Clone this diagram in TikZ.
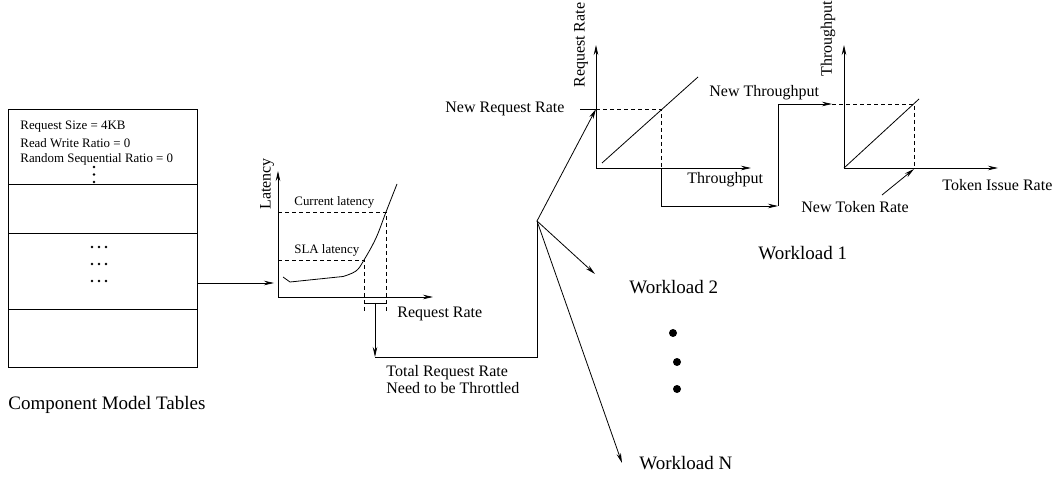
\documentclass[tikz,border=0pt]{standalone}
\usepackage{fontspec}
\setmainfont{Liberation Serif}
\usetikzlibrary{arrows.meta}
\begin{document}
\begin{tikzpicture}[x=1pt,y=-1pt,
  every path/.style={line width=0.8pt},
  arr/.style={-{Stealth[length=10pt,width=4.5pt]}},
  dsh/.style={dash pattern=on 4pt off 3pt},
  small/.style={font=\fontsize{12.9}{15}\selectfont, inner sep=0pt, anchor=west},
  med/.style={font=\fontsize{16}{18}\selectfont, inner sep=0pt, anchor=west},
  big/.style={font=\fontsize{19}{22}\selectfont, inner sep=0pt, anchor=west},
  dotc/.style={fill=black, draw=none}]
\useasboundingbox (0,0) rectangle (1055,478);

% ---------- component model table ----------
\draw (8,109) rectangle (197,367);
\draw (8,184) -- (197,184);
\draw (8,233) -- (197,233);
\draw (8,309) -- (197,309);
\node[small] (t1) at (20,127) {Request Size = 4KB};
\node[small] (t2) at (20,143) {Read Write Ratio = 0};
\node[small] (t3) at (20,159) {Random Sequential Ratio = 0};
\foreach \y in {167,174.5,182} \fill[dotc] (94,\y) circle (1.4);
\foreach \y in {247,264,281} \foreach \x in {92,99,106} \fill[dotc] (\x,\y) circle (1.3);
\node[big] (cmt) at (8,405) {Component Model Tables};
\coordinate (tabout) at (197,283);
\coordinate (latin) at (274,283);
\draw[arr] (tabout) -- (latin);

% ---------- latency graph ----------
\coordinate (lo) at (278,297);
\coordinate (ly) at (278,171);
\coordinate (lx) at (433,297);
\draw[arr] (lo) -- (ly);
\draw[arr] (lo) -- (lx);
\node[med, rotate=90] (latlab) at (267,210) {Latency};
\node[med] (rr1) at (397,314) {Request Rate};
\node[small] (cur) at (294,202) {Current latency};
\node[small] (sla) at (294,250) {SLA latency};
\coordinate (pc) at (386,212);
\coordinate (ps) at (364,260);
\draw (283,277) -- (290,282) -- (343,276.5);
\draw plot[smooth, tension=0.6] coordinates {(343,276.5) (356,271) (364,260) (376,238) (386,212) (397,184)};
\draw[dsh] (lo |- pc) -- (pc) -- (386,313);
\draw[dsh] (lo |- ps) -- (ps) -- (364,313);
\draw (364,303) -- (386,303);
\coordinate (bm) at (375,303);
\coordinate (bd) at (375,357);
\draw[arr] (bm) -- (bd);
\coordinate (J) at (537,221);
\draw (bd) -- (537,357) -- (J);
\node[med] (total) at (386,373) {Total Request Rate};
\node[med] (need) at (386,388) {Need to be Throttled};

% ---------- request rate / throughput graph ----------
\coordinate (ro) at (596,168);
\coordinate (ry) at (596,45);
\coordinate (rx) at (751,168);
\draw[arr] (ro) -- (ry);
\draw[arr] (ro) -- (rx);
\node[med, rotate=90] (rrlab) at (581,88) {Request Rate};
\node[med] (thr1) at (687,180) {Throughput};
\node[med] (nrr) at (445,109) {New Request Rate};
\coordinate (nrrpt) at (596,109);
\draw (580,109) -- (nrrpt);
\draw (602,163) -- (698,77);
\coordinate (q1) at (661,109);
\draw[dsh] (nrrpt) -- (q1) -- (661,168);
\draw[arr] (J) -- (nrrpt);
\coordinate (r1) at (778,206);
\draw[arr] (661,168) |- (r1);
\coordinate (r2) at (832,104);
\draw[arr] (r1) |- (r2);
\node[med] (nthr) at (709,93) {New Throughput};

% ---------- throughput / token graph ----------
\coordinate (so) at (844,168);
\coordinate (sy) at (844,45);
\coordinate (sx) at (998,168);
\draw[arr] (so) -- (sy);
\draw[arr] (so) -- (sx);
\node[med, rotate=90] (thrlab) at (828,77) {Throughput};
\node[med] (tir) at (942,185) {Token Issue Rate};
\draw (so) -- (919,99);
\coordinate (q2) at (914,104);
\draw[dsh] (r2) -- (q2) -- (914,168);
\node[med] (ntr) at (801,207) {New Token Rate};
\coordinate (ntrs) at (882,195);
\coordinate (ntrt) at (914,169);
\draw[arr] (ntrs) -- (ntrt);
\node[big] (w1) at (758,253) {Workload 1};

% ---------- workloads ----------
\coordinate (w2a) at (595,274);
\coordinate (wna) at (622,463);
\draw[arr] (J) -- (w2a);
\draw[arr] (J) -- (wna);
\node[big] (w2) at (629,287) {Workload 2};
\node[big] (wn) at (639,463) {Workload N};
\fill[dotc] (673,333) circle (4);
\fill[dotc] (677,362) circle (4);
\fill[dotc] (677,389) circle (4);
\end{tikzpicture}
\end{document}
